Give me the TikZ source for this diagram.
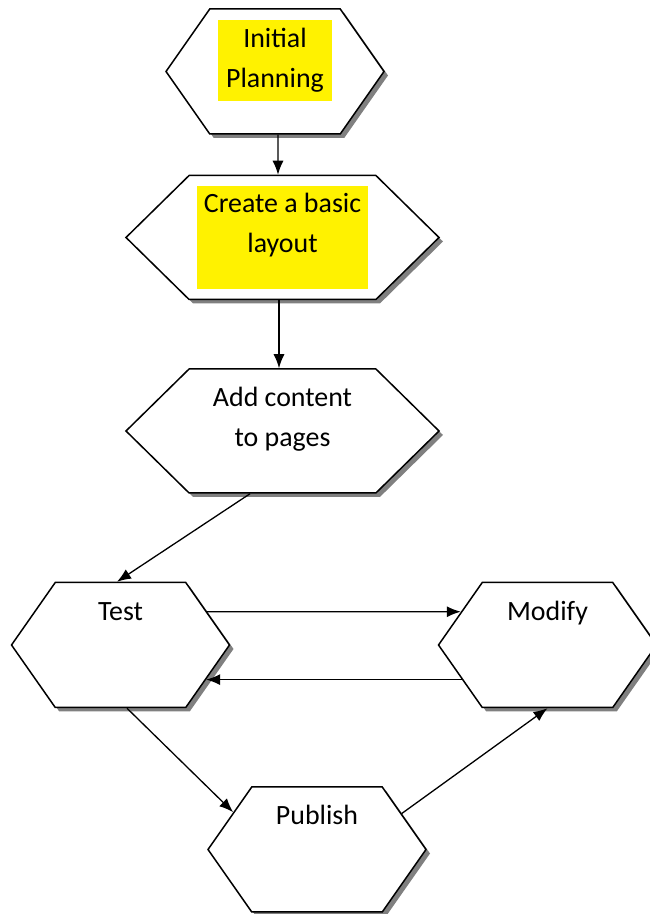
\documentclass[tikz,border=0pt]{standalone}
\usepackage{fontspec}
\setmainfont{Carlito}
\usetikzlibrary{shapes.symbols,shadows,arrows.meta}
\tikzset{
  hexa/.style={draw,fill=white,line width=1.5bp,signal,signal to=west and east,
    inner sep=0pt,general shadow={fill=black!50,shadow xshift=4bp,shadow yshift=-4bp}},
  smallhexa/.style={hexa,minimum width=218bp,minimum height=125bp,signal pointer angle=110},
  widehexa/.style={hexa,minimum width=313bp,minimum height=124bp,signal pointer angle=89},
  hilite/.style={fill=yellow,inner sep=0pt},
  lbl/.style={align=center,anchor=base,inner sep=0pt,font=\fontsize{28}{40.5}\selectfont},
}
\begin{document}
\begin{tikzpicture}[>={Latex[length=14bp,width=11bp]},line width=1.3bp]
    \useasboundingbox (0bp,0bp) rectangle (650bp,914bp);
    %%
    \node (ip) at (275.0bp,842.5bp) [smallhexa] {};
    \node (cb) at (282.5bp,676.5bp) [widehexa] {};
    \node (ac) at (282.5bp,483.0bp) [widehexa] {};
    \node (test) at (120.5bp,269.0bp) [smallhexa] {};
    \node (mod) at (547.5bp,269.0bp) [smallhexa] {};
    \node (pub) at (317.0bp,64.5bp) [smallhexa] {};
    %%
    \node (ipbg) at (275.0bp,853.5bp) [hilite,minimum width=114bp,minimum height=81bp] {};
    \node (cbbg) at (282.5bp,676.5bp) [hilite,minimum width=171bp,minimum height=103bp] {};
    %% base anchor = baseline of the last line
    \node (iptext) at (275.0bp,826.0bp) [lbl] {Initial\\Planning};
    \node (cbtext) at (282.5bp,661.0bp) [lbl] {Create a basic\\layout};
    \node (actext) at (282.5bp,467.5bp) [lbl] {Add content\\to pages};
    \node (testtext) at (120.5bp,293.0bp) [lbl] {Test};
    \node (modtext) at (547.5bp,293.0bp) [lbl] {Modify};
    \node (pubtext) at (317.0bp,89.0bp) [lbl] {Publish};
    %%
    \draw [->] ([xshift=3bp]ip.south) -- ([xshift=-4.5bp]cb.north);
    \draw [->] ([xshift=-3.5bp]cb.south) -- ([xshift=-3.5bp]ac.north);
    \draw [->] ([xshift=-32.5bp]ac.south) -- ([xshift=-3.5bp]test.north);
    \draw [->] (test.21) -- (mod.159);
    \draw [->] (mod.202) -- (test.338);
    \draw [->] ([xshift=6.5bp]test.south) -- (pub.156);
    \draw [->] (pub.23) -- (mod.south);
    %
\end{tikzpicture}
\end{document}
